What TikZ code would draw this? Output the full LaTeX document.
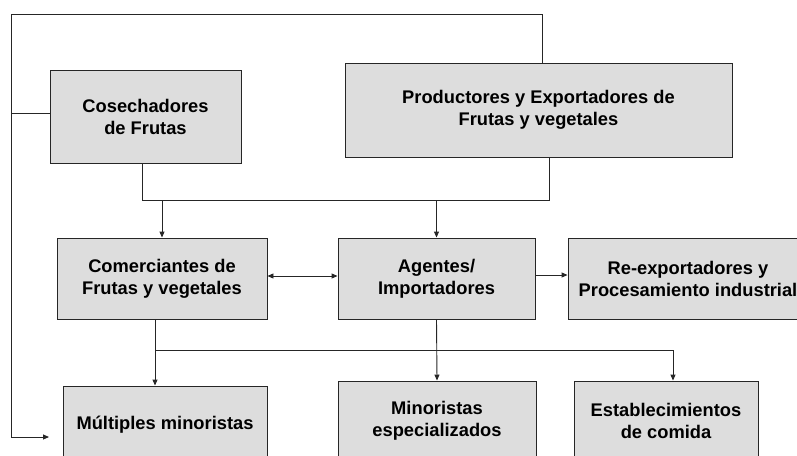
\documentclass[tikz,border=0pt]{standalone}
\usepackage{fontspec}
\setmainfont{Liberation Sans}
\usepackage{xcolor}
\usetikzlibrary{arrows.meta}
\definecolor{boxgray}{HTML}{DDDDDD}
\tikzset{
  box/.style={draw=black!85, line width=0.9pt, fill=boxgray, align=center,
    inner sep=0pt, font=\fontsize{18.3}{22}\selectfont\bfseries},
  arr/.style={-{Triangle[length=6pt,width=5pt]}},
  link/.style={draw=black!85, line width=0.9pt}
}
\begin{document}
\begin{tikzpicture}[x=1pt,y=-1pt]
		\useasboundingbox (0,0) rectangle (797,455);
		\clip (0,0) rectangle (797,455);
		% 绘制方框
		\node[box, minimum width=191pt, minimum height=93pt] (cos) at (145.5,116.5) {Cosechadores\\de Frutas};
		\node[box, minimum width=387pt, minimum height=94pt] (prod) at (538.5,110) {Productores y Exportadores de\\Frutas y vegetales};
		\node[box, minimum width=210pt, minimum height=81pt] (com) at (162,278.5) {Comerciantes de\\Frutas y vegetales};
		\node[box, minimum width=197pt, minimum height=81pt] (age) at (436.5,278.5) {Agentes/\\Importadores};
		\node[box, minimum width=240pt, minimum height=81pt] (reexp) at (688,278.5) {Re-exportadores y\\Procesamiento industrial};
		\node[box, minimum width=204pt, minimum height=78pt] (mult) at (165,425) {M\'ultiples minoristas};
		\node[box, minimum width=198pt, minimum height=80pt] (mino) at (437,421) {Minoristas\\especializados};
		\node[box, minimum width=184pt, minimum height=80pt] (est) at (666,421) {Establecimientos\\de comida};
		% 辅助坐标
		\coordinate (top) at (11,14);
		\coordinate (tip) at (49,437);
		\coordinate (ja) at (142,200);
		\coordinate (jb) at (549,200);
		\coordinate (jc) at (155,350);
		\coordinate (jd) at (673,350);
		% 外圈连线
		\draw[link, arr] (prod.north -| 542,0) |- (top) |- (tip);
		\draw[link] (cos.west |- 0,113) -- (top |- 0,113);
		% 第一层汇合
		\draw[link] (cos.south -| ja) -- (ja) -- (jb) -- (prod.south -| jb);
		\draw[link, arr] (com.north |- ja) -- (com.north);
		\draw[link, arr] (age.north |- ja) -- (age.north);
		% 中间层
		\draw[link, {Triangle[length=6pt,width=5pt]}-{Triangle[length=6pt,width=5pt]}] (com.east |- 0,276) -- (age.west |- 0,276);
		\draw[link, arr] (age.east |- 0,275) -- (reexp.west |- 0,275);
		% 零售分配
		\draw[link, arr] (com.south -| jc) -- (mult.north -| jc);
		\draw[link] (jc) -- (jd);
		\draw[link, arr] (jd) -- (est.north -| jd);
		\draw[link, arr] (age.south) -- (mino.north);
	\end{tikzpicture}
\end{document}
